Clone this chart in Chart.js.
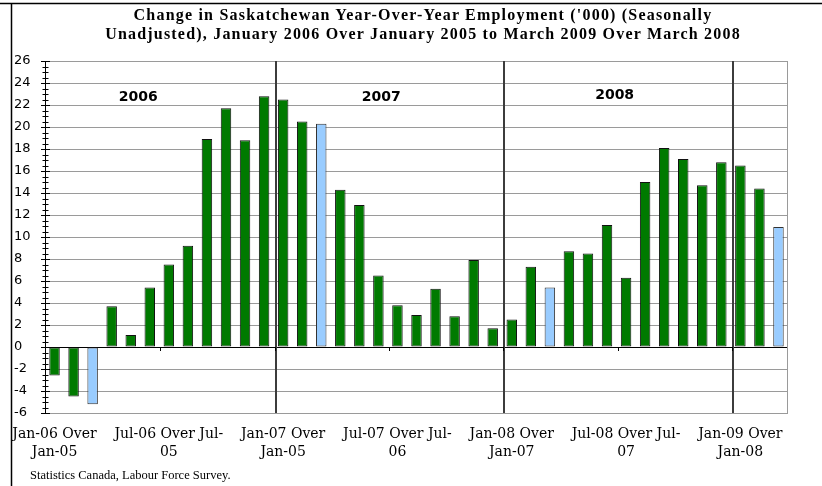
<!DOCTYPE html>
<html>
<head>
<meta charset="utf-8">
<script src="https://cdn.jsdelivr.net/npm/chart.js@4/dist/chart.umd.min.js"></script>
<style>
  html, body { margin: 0; padding: 0; background: #fff; }
  #wrap { position: relative; width: 822px; height: 486px; overflow: hidden; }
  canvas { position: absolute; left: 0; top: 0; }
  #title { position: absolute; top: 5px; left: 12px; width: 822px; text-align: center; font: bold 16px 'Liberation Serif', serif; line-height: 19px; letter-spacing: 1.2px; color: #000; }
  #source { position: absolute; left: 30px; top: 468px; font: 12.5px 'Liberation Serif', serif; color: #000; }
</style>
</head>
<body>
<div id="wrap">
  <canvas id="chart" width="822" height="486"></canvas>
  <div id="title">Change in Saskatchewan Year-Over-Year Employment ('000) (Seasonally<br>Unadjusted), January 2006 Over January 2005 to March 2009 Over March 2008</div>
  <div id="source">Statistics Canada, Labour Force Survey.</div>
</div>
<script>
// months compared with the same month a year earlier
const months = [
  'Jan-06', 'Feb-06', 'Mar-06', 'Apr-06', 'May-06', 'Jun-06', 'Jul-06', 'Aug-06', 'Sep-06', 'Oct-06', 'Nov-06', 'Dec-06',
  'Jan-07', 'Feb-07', 'Mar-07', 'Apr-07', 'May-07', 'Jun-07', 'Jul-07', 'Aug-07', 'Sep-07', 'Oct-07', 'Nov-07', 'Dec-07',
  'Jan-08', 'Feb-08', 'Mar-08', 'Apr-08', 'May-08', 'Jun-08', 'Jul-08', 'Aug-08', 'Sep-08', 'Oct-08', 'Nov-08', 'Dec-08',
  'Jan-09', 'Feb-09', 'Mar-09'
];
// change in employment ('000)
const values = [
  -2.6, -4.5, -5.2, 3.7, 1.1, 5.4, 7.5, 9.2, 18.9, 21.7, 18.8, 22.8,
  22.5, 20.5, 20.3, 14.3, 12.9, 6.5, 3.8, 2.9, 5.3, 2.8, 7.9, 1.7,
  2.5, 7.3, 5.4, 8.7, 8.5, 11.1, 6.3, 15.0, 18.1, 17.1, 14.7, 16.8,
  16.5, 14.4, 10.9
];
// march bars are shown in light blue
const highlighted = ['Mar-06', 'Mar-07', 'Mar-08', 'Mar-09'];
// one label every six months
const tickLabels = [
  ['Jan-06 Over', 'Jan-05'], ['Jul-06 Over Jul-', '05'], ['Jan-07 Over', 'Jan-05'],
  ['Jul-07 Over Jul-', '06'], ['Jan-08 Over', 'Jan-07'], ['Jul-08 Over Jul-', '07'],
  ['Jan-09 Over', 'Jan-08']
];
const yearLabels = ['2006', '2007', '2008'];

const green = '#007a00';
const blue = '#99ccff';

// frame, plot border, year separators, axis ticks and the year captions
const decor = {
  id: 'decor',
  beforeDraw(chart) {
    const c = chart.ctx;
    c.save();
    c.strokeStyle = '#000';
    c.lineWidth = 1.5;
    c.beginPath();
    c.moveTo(0, 3.5); c.lineTo(822, 3.5);
    c.moveTo(11.5, 3.5); c.lineTo(11.5, 486);
    c.stroke();
    c.restore();
  },
  afterDraw(chart) {
    const c = chart.ctx, a = chart.chartArea, x = chart.scales.x, y = chart.scales.y;
    const edge = i => (x.getPixelForValue(i - 1) + x.getPixelForValue(i)) / 2;
    c.save();
    c.strokeStyle = '#9a9a9a';
    c.lineWidth = 1;
    c.beginPath();
    c.moveTo(a.right - 0.5, a.top); c.lineTo(a.right - 0.5, a.bottom);
    c.stroke();

    c.strokeStyle = '#3c3c3c';
    c.lineWidth = 2;
    [12, 24, 36].forEach(i => {
      const px = Math.round(edge(i)) + 2;
      c.beginPath(); c.moveTo(px, a.top); c.lineTo(px, a.bottom); c.stroke();
    });

    c.strokeStyle = '#000';
    c.lineWidth = 1;
    const ax = a.left + 0.5;
    for (let v = -6; v <= 26; v += 0.5) {
      const py = Math.round(y.getPixelForValue(v)) + 0.5;
      const h = v % 2 === 0 ? 4.5 : 3;
      c.beginPath(); c.moveTo(ax - h, py); c.lineTo(ax + h, py); c.stroke();
    }
    const y0 = Math.round(y.getPixelForValue(0));
    for (let i = 6; i < months.length; i += 6) {
      const px = Math.round(edge(i)) + 1.5;
      c.beginPath(); c.moveTo(px, y0); c.lineTo(px, y0 + 4); c.stroke();
    }

    c.fillStyle = '#000';
    c.font = 'bold 14px "DejaVu Sans"';
    c.textAlign = 'center';
    c.textBaseline = 'middle';
    const at = [[4.4, 22.7], [17.15, 22.7], [29.4, 22.9]];
    yearLabels.forEach((t, k) => c.fillText(t, x.getPixelForValue(at[k][0]), y.getPixelForValue(at[k][1])));
    c.restore();
  }
};

new Chart(document.getElementById('chart'), {
  type: 'bar',
  data: {
    labels: months,
    datasets: [{
      data: values,
      backgroundColor: months.map(m => highlighted.includes(m) ? blue : green),
      borderColor: months.map(m => highlighted.includes(m) ? '#333' : '#111'),
      borderWidth: 1,
      borderSkipped: false,
      barPercentage: 0.55,
      categoryPercentage: 1
    }]
  },
  options: {
    responsive: false,
    animation: false,
    layout: { padding: { left: 14, top: 61, right: 34, bottom: 0 } },
    plugins: { legend: { display: false }, tooltip: { enabled: false }, title: { display: false } },
    scales: {
      x: {
        grid: { display: false },
        border: { display: false },
        afterFit(scale) { scale.height = 73; },
        ticks: {
          autoSkip: false, maxRotation: 0, minRotation: 0, padding: 4,
          color: '#000',
          font: { family: 'DejaVu Serif', size: 14, lineHeight: 1.28 },
          callback: (v, i) => i % 6 === 0 ? tickLabels[i / 6] : ''
        }
      },
      y: {
        min: -6, max: 26,
        afterFit(scale) { scale.width = 31; },
        grid: {
          drawTicks: false,
          color: ctx => ctx.tick && ctx.tick.value === 0 ? '#000' : '#9a9a9a'
        },
        border: { display: true, color: '#000', width: 1 },
        ticks: {
          stepSize: 2, crossAlign: 'far', padding: 0,
          color: '#000',
          font: { family: 'DejaVu Sans', size: 13 }
        }
      }
    }
  },
  plugins: [decor]
});
</script>
</body>
</html>
